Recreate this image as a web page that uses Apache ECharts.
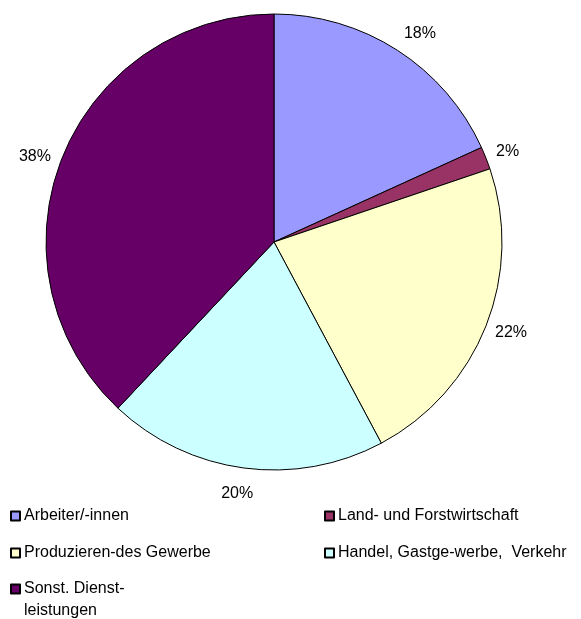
<!DOCTYPE html>
<html>
<head>
<meta charset="utf-8">
<script src="https://cdn.jsdelivr.net/npm/echarts@6/dist/echarts.min.js"></script>
<style>
  html, body { margin: 0; padding: 0; background: #fff; }
  #chart { width: 581px; height: 619px; }
</style>
</head>
<body>
<div id="chart"></div>
<script>
// Anteile nach Wirtschaftsbereich
var categories = ['Arbeiter/-innen', 'Land- und Forstwirtschaft', 'Produzieren-des Gewerbe', 'Handel, Gastge-werbe,  Verkehr', 'Sonst. Dienst-\nleistungen'];
var values = [18.2, 1.6, 22.4, 19.8, 38.0];
var colors = ['#9999FF', '#993366', '#FFFFCC', '#CCFFFF', '#660066'];

var font = 'Liberation Sans, Arial, sans-serif';

// legend: two columns, three rows (left, top)
var legendPos = [[10, 505], [324, 505], [10, 542], [324, 542], [10, 556]];
// small nudges so the percent labels sit like in the original
var labelNudge = [[-6, -5], [-8, -1], [-9, 2], [16, 12], [7, 4]];

var legends = [];
for (var i = 0; i < categories.length; i++) {
    var twoLines = categories[i].indexOf('\n') >= 0;
    legends.push({
        data: [categories[i]],
        left: legendPos[i][0],
        top: legendPos[i][1],
        padding: 0,
        itemWidth: 9,
        itemHeight: 9,
        itemGap: 0,
        selectedMode: false,
        icon: 'rect',
        // empty first line keeps the icon on the first text line
        formatter: twoLines ? function (n) { return '\n' + n; } : '{name}',
        textStyle: {
            fontFamily: font, fontSize: 16, color: '#000', lineHeight: 22,
            padding: [0, 0, 0, -1]
        }
    });
}

var chart = echarts.init(document.getElementById('chart'));
chart.setOption({
    animation: false,
    color: colors,
    legend: legends,
    series: [{
        type: 'pie',
        center: [274, 242],
        radius: 228,
        startAngle: 90,
        clockwise: true,
        data: categories.map(function (c, i) { return {name: c, value: values[i]}; }),
        itemStyle: {borderColor: '#000', borderWidth: 1},
        label: {
            position: 'outside',
            fontFamily: font,
            fontSize: 16,
            color: '#000',
            formatter: function (p) { return Math.round(p.percent) + '%'; }
        },
        labelLine: {show: false, length: 14, length2: 0},
        labelLayout: function (p) {
            var n = labelNudge[p.dataIndex];
            return {dx: n[0], dy: n[1]};
        },
        emphasis: {disabled: true}
    }]
});
</script>
</body>
</html>
